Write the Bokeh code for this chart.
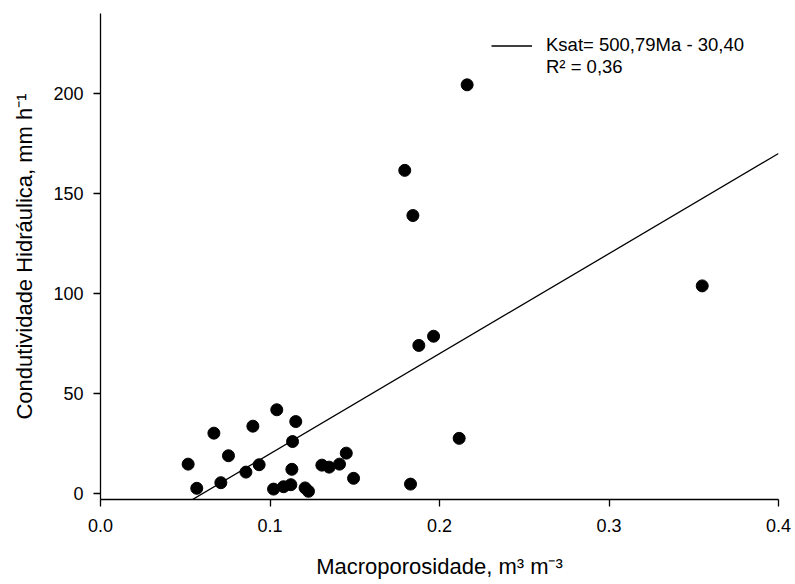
from bokeh.plotting import figure
from bokeh.models import Range1d, FixedTicker, PrintfTickFormatter, Legend, LegendItem
from bokeh.embed import file_html
from bokeh.resources import INLINE

# Data
macroporosidade = [0.0517, 0.0568, 0.0669, 0.0710, 0.0755, 0.0858, 0.0899, 0.0936,
                   0.1040, 0.1021, 0.1080, 0.1123, 0.1133, 0.1129, 0.1152, 0.1207,
                   0.1227, 0.1306, 0.1349, 0.1410, 0.1450, 0.1493, 0.1829, 0.2116,
                   0.1795, 0.2163, 0.1843, 0.1878, 0.1965, 0.3550]
ksat = [14.5, 2.4, 30.0, 5.2, 18.7, 10.5, 33.5, 14.2,
        41.7, 2.0, 3.2, 4.2, 25.8, 11.9, 35.8, 2.6,
        0.9, 14.0, 13.0, 14.5, 20.0, 7.4, 4.5, 27.4,
        161.5, 204.3, 138.9, 73.9, 78.5, 103.7]

slope = 500.79
intercept = -30.40
fit_x = [min(macroporosidade), 0.4]
fit_y = [slope * v + intercept for v in fit_x]

x_ticks = [0.0, 0.1, 0.2, 0.3, 0.4]
y_ticks = [0, 50, 100, 150, 200]

legend_line1 = "Ksat= 500,79Ma - 30,40"
legend_line2 = "R² = 0,36"
x_label = "Macroporosidade, m³ m⁻³"
y_label = "Condutividade Hidráulica, mm h⁻¹"

FONT = "Liberation Sans"

p = figure(width=795, height=584, output_backend="svg", toolbar_location=None,
           x_range=Range1d(0, 0.4), y_range=Range1d(-3.2, 240),
           min_border_left=100, min_border_right=17, min_border_top=13, min_border_bottom=85)
p.outline_line_color = None
p.xgrid.visible = False
p.ygrid.visible = False

fit = p.line(fit_x, fit_y, line_color="black", line_width=1.3)
p.scatter(macroporosidade, ksat, size=12, fill_color="black", line_color="black")

blank = p.line(x=[], y=[], line_alpha=0)

for ax in (p.xaxis[0], p.yaxis[0]):
    ax.axis_line_color = "black"
    ax.axis_line_width = 1.3
    ax.major_tick_in = 0
    ax.major_tick_out = 7
    ax.major_tick_line_width = 1.3
    ax.minor_tick_line_color = None
    ax.major_label_text_font = FONT
    ax.major_label_text_font_size = "18px"
    ax.major_label_text_color = "black"
    ax.axis_label_text_font = FONT
    ax.axis_label_text_font_size = "22px"
    ax.axis_label_text_font_style = "normal"
    ax.axis_label_text_color = "black"

p.xaxis.ticker = FixedTicker(ticks=x_ticks)
p.xaxis.formatter = PrintfTickFormatter(format="%.1f")
p.yaxis.ticker = FixedTicker(ticks=y_ticks)
p.xaxis.axis_label = x_label
p.yaxis.axis_label = y_label
p.xaxis.major_label_standoff = 12
p.xaxis.axis_label_standoff = 19
p.yaxis.major_label_standoff = 10
p.yaxis.axis_label_standoff = 13

legend = Legend(items=[LegendItem(label=legend_line1, renderers=[fit]),
                       LegendItem(label=legend_line2, renderers=[blank])],
                location=(391, 421), border_line_color=None, background_fill_alpha=0,
                padding=0, spacing=0, margin=0, glyph_width=41, glyph_height=21,
                label_standoff=14, label_text_font=FONT, label_text_font_size="18.5px",
                label_text_color="black", label_height=21)
p.add_layout(legend)

open("out.html", "w").write(file_html(p, INLINE))
